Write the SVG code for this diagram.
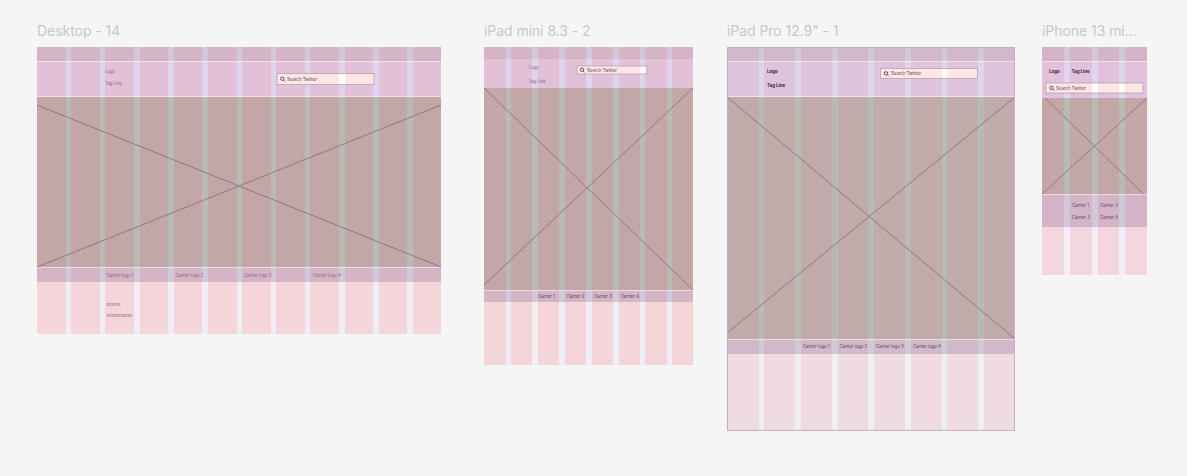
<svg xmlns="http://www.w3.org/2000/svg" width="1187" height="476" viewBox="0 0 1187 476">
<style>
text{font-family:Inter,"Liberation Sans",sans-serif}
.title{font-size:14px;fill:#c8c8c8;letter-spacing:-.05px}
.pink{fill:#f3d5da}
.gap{fill:#efeef3}
.band{fill:#583074;fill-opacity:.2}
.head{fill:#8249d1;fill-opacity:.15}
.hero{fill:#c3a7a6}
.hg{fill:#b8bab6}
.rule{stroke:#fff;stroke-opacity:.5;stroke-width:1;fill:none}
.x{stroke:#6f5565;stroke-width:.6;fill:none}
.search{fill:none;stroke:#b09aa5;stroke-width:.7}
.sf{fill:#ffe6e6}
.sw{fill:#fff}
.ico{fill:none;stroke:#333;stroke-width:.8}
.t{font-size:4.25px;fill:#856678}
.s{font-size:4.4px;fill:#54484e}
.d{font-size:4.25px;fill:#4e3f48}
.b{font-size:4.4px;font-weight:700;fill:#2e2530}
</style>
<rect width="1187" height="476" fill="#f5f5f5"/>

<g id="desktop-14">
<text class="title" x="37" y="36">Desktop - 14</text>
<rect class="pink" x="37" y="47" width="404" height="287"/>
<g class="gap"><rect x="66" y="47" width="5" height="287"/><rect x="100" y="47" width="5" height="287"/><rect x="134" y="47" width="6" height="287"/><rect x="168" y="47" width="6" height="287"/><rect x="202" y="47" width="6" height="287"/><rect x="237" y="47" width="5" height="287"/><rect x="271" y="47" width="5" height="287"/><rect x="305" y="47" width="5" height="287"/><rect x="339" y="47" width="6" height="287"/><rect x="373" y="47" width="6" height="287"/><rect x="407" y="47" width="6" height="287"/></g>
<rect class="band" x="37" y="47" width="404" height="14"/>
<rect class="head" x="37" y="61" width="404" height="36"/>
<rect class="hero" x="37" y="97" width="404" height="170"/>
<g class="hg"><rect x="66" y="97" width="5" height="170"/><rect x="100" y="97" width="5" height="170"/><rect x="134" y="97" width="6" height="170"/><rect x="168" y="97" width="6" height="170"/><rect x="202" y="97" width="6" height="170"/><rect x="237" y="97" width="5" height="170"/><rect x="271" y="97" width="5" height="170"/><rect x="305" y="97" width="5" height="170"/><rect x="339" y="97" width="6" height="170"/><rect x="373" y="97" width="6" height="170"/><rect x="407" y="97" width="6" height="170"/></g>
<rect class="band" x="37" y="267" width="404" height="15"/>
<path class="rule" d="M37 61.500H441M37 96.500H441M37 267.500H441"/>
<path class="x" d="M37 105L441 267M37 267L441 105"/>
<rect class="sf" x="277" y="73.500" width="97" height="11"/>
<rect class="sw" x="339" y="74" width="6" height="10"/>
<rect class="search" x="277" y="73.500" width="97" height="11"/>
<circle class="ico" cx="282.300" cy="78.700" r="1.700"/><path class="ico" d="M283.500 80L285 81.500"/>
<text class="s" x="287" y="80.700">Search Twitter</text>
<text class="t" x="105" y="73.200">Logo</text>
<text class="t" x="105" y="84.700">Tag Line</text>
<text class="t" x="106.700" y="277.200">Carrier logo 1</text>
<text class="t" x="175.700" y="277.200">Carrier logo 2</text>
<text class="t" x="244" y="277.200">Carrier logo 3</text>
<text class="t" x="313" y="277.200">Carrier logo 4</text>
<text class="t" x="106.500" y="306">xxxxxx</text>
<text class="t" x="106.500" y="317">xxxxxxxxxxx</text>
</g>

<g id="ipad-mini-8-3-2">
<text class="title" x="484" y="36">iPad mini 8.3 - 2</text>
<rect class="pink" x="484" y="47" width="209" height="318"/>
<g class="gap"><rect x="506" y="47" width="5" height="318"/><rect x="532" y="47" width="6" height="318"/><rect x="559" y="47" width="6" height="318"/><rect x="586" y="47" width="6" height="318"/><rect x="613" y="47" width="6" height="318"/><rect x="640" y="47" width="5" height="318"/><rect x="667" y="47" width="5" height="318"/></g>
<rect class="band" x="484" y="47" width="209" height="12"/>
<rect class="head" x="484" y="59" width="209" height="29"/>
<rect class="hero" x="484" y="88" width="209" height="202"/>
<g class="hg"><rect x="506" y="88" width="5" height="202"/><rect x="532" y="88" width="6" height="202"/><rect x="559" y="88" width="6" height="202"/><rect x="586" y="88" width="6" height="202"/><rect x="613" y="88" width="6" height="202"/><rect x="640" y="88" width="5" height="202"/><rect x="667" y="88" width="5" height="202"/></g>
<rect class="band" x="484" y="290" width="209" height="12"/>
<path class="rule" d="M484 290.500H693"/>
<path class="x" d="M484 88L693 290M484 285L693 88"/>
<rect class="sf" x="577" y="66" width="70" height="8"/>
<rect class="sw" x="640" y="66.500" width="5" height="7"/>
<rect class="search" x="577" y="66" width="70" height="8"/>
<circle class="ico" cx="582" cy="69.700" r="1.700"/><path class="ico" d="M583.200 71L584.600 72.400"/>
<text class="s" x="587" y="71.800">Search Twitter</text>
<text class="t" x="528.700" y="69.200">Logo</text>
<text class="t" x="528.700" y="82.700">Tag Line</text>
<text class="d" x="538" y="297.800">Carrier 1</text>
<text class="d" x="566.700" y="297.800">Carrier 2</text>
<text class="d" x="594" y="297.800">Carrier 3</text>
<text class="d" x="621" y="297.800">Carrier 4</text>
</g>

<g id="ipad-pro-12-9-1">
<text class="title" x="727" y="36">iPad Pro 12.9" - 1</text>
<rect x="727" y="47" width="288" height="384" fill="#efdbe0"/>
<g class="gap"><rect x="759" y="47" width="5" height="384"/><rect x="795" y="47" width="6" height="384"/><rect x="832" y="47" width="6" height="384"/><rect x="868" y="47" width="6" height="384"/><rect x="905" y="47" width="6" height="384"/><rect x="942" y="47" width="5" height="384"/><rect x="978" y="47" width="6" height="384"/></g>
<rect class="band" x="727" y="47" width="288" height="14"/>
<rect class="head" x="727" y="61" width="288" height="36"/>
<rect x="727" y="97" width="288" height="242" fill="#c0aba9"/>
<g class="hg"><rect x="759" y="97" width="5" height="242"/><rect x="795" y="97" width="6" height="242"/><rect x="832" y="97" width="6" height="242"/><rect x="868" y="97" width="6" height="242"/><rect x="905" y="97" width="6" height="242"/><rect x="942" y="97" width="5" height="242"/><rect x="978" y="97" width="6" height="242"/></g>
<rect class="band" x="727" y="339" width="288" height="15"/>
<path class="rule" d="M727 61.500H1015M727 96.500H1015M727 339.500H1015"/>
<path class="x" d="M727 97L1015 339M727 333L1015 97"/>
<rect x="727.500" y="47.500" width="287" height="383" fill="none" stroke="#bdb4cc" stroke-width="1"/>
<rect class="sf" x="880.500" y="68.500" width="97" height="10"/>
<rect class="sw" x="942" y="69" width="5" height="9"/>
<rect class="search" x="880.500" y="68.500" width="97" height="10"/>
<circle class="ico" cx="886" cy="73.300" r="1.700"/><path class="ico" d="M887.200 74.600L888.700 76.100"/>
<text class="s" x="891" y="75.300">Search Twitter</text>
<text class="b" x="767" y="73.300">Logo</text>
<text class="b" x="767" y="87.300">Tag Line</text>
<text class="d" x="803" y="347.800">Carrier logo 1</text>
<text class="d" x="839.500" y="347.800">Carrier logo 2</text>
<text class="d" x="876" y="347.800">Carrier logo 3</text>
<text class="d" x="913" y="347.800">Carrier logo 4</text>
</g>

<g id="iphone-13-mini">
<text class="title" x="1042" y="36">iPhone 13 mi...</text>
<rect x="1042" y="47" width="105" height="228" fill="#f3d6de"/>
<g fill="#f1eef7"><rect x="1064" y="47" width="6" height="228"/><rect x="1092" y="47" width="6" height="228"/><rect x="1119" y="47" width="6" height="228"/></g>
<rect class="band" x="1042" y="47" width="105" height="14"/>
<rect class="head" x="1042" y="61" width="105" height="37"/>
<rect class="hero" x="1042" y="98" width="105" height="96"/>
<g class="hg"><rect x="1064" y="98" width="6" height="96"/><rect x="1092" y="98" width="6" height="96"/><rect x="1119" y="98" width="6" height="96"/></g>
<rect class="band" x="1042" y="194" width="105" height="33"/>
<path class="rule" d="M1042 61.500H1147M1042 194.500H1147"/>
<path class="x" d="M1045 98L1143.500 194M1042 194L1147 98"/>
<rect class="sf" x="1046" y="83" width="97" height="10"/>
<rect class="sw" x="1092" y="83.500" width="6" height="9"/><rect class="sw" x="1119" y="83.500" width="6" height="9"/>
<rect class="search" x="1046" y="83" width="97" height="10"/>
<circle class="ico" cx="1051.500" cy="87.800" r="1.700"/><path class="ico" d="M1052.700 89.100L1054.200 90.600"/>
<text class="s" x="1056" y="89.800">Search Twitter</text>
<text class="b" x="1049" y="73.300">Logo</text>
<text class="b" x="1071.500" y="73.300">Tag Line</text>
<text class="d" x="1072" y="207.300">Carrier 1</text>
<text class="d" x="1100" y="207.300">Carrier 3</text>
<text class="d" x="1072" y="219.300">Carrier 3</text>
<text class="d" x="1100" y="219.300">Carrier 4</text>
</g>
</svg>
